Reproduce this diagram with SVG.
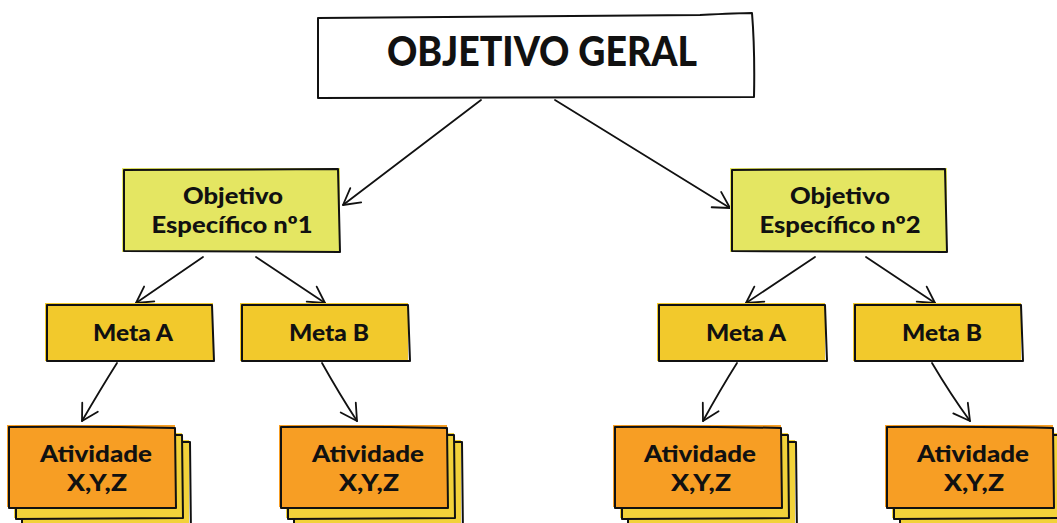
<svg xmlns="http://www.w3.org/2000/svg" width="1057" height="523" viewBox="0 0 1057 523">
<defs>
<style>
.b{stroke:#111;stroke-width:2;stroke-linejoin:round;fill:none}
.t{font-family:Lato,"Noto Sans","Liberation Sans",sans-serif;font-weight:900;fill:#111;text-anchor:middle}
.obj{fill:#e4e662}
.meta{fill:#f2c92c}
.act{fill:#f79e24}
.bk{fill:#f2d23a}
.c{stroke:#111;stroke-width:1.8;fill:none;stroke-linecap:round}
</style>
<marker id="ah" markerUnits="userSpaceOnUse" markerWidth="22" markerHeight="22" viewBox="0 0 22 22" refX="18" refY="11" orient="auto">
<path d="M2,2 L18,11 L2,20" fill="none" stroke="#111" stroke-width="1.8" stroke-linecap="round" stroke-linejoin="round"/>
</marker>
<g id="stack">
<rect class="bk" x="12" y="13" width="168" height="95"/>
<path class="b" d="M14,15 L181,15 L182,110"/>
<path class="b" d="M13,15 L13,110"/>
<rect class="bk" x="5" y="6" width="168" height="85"/>
<path class="b" d="M7,8 L173,8 L174,91 L7,92 Z"/>
<rect class="act" x="-2" y="-2" width="168" height="82"/>
<path class="b" d="M0,0 Q80,-1 166,1 L167,81 L0,81 Z"/>
</g>
</defs>

<g id="connectors">
<path class="c" d="M481,100 L343,205" marker-end="url(#ah)"/>
<path class="c" d="M555,100 L730,208" marker-end="url(#ah)"/>
<path class="c" d="M203,257 L136,303" marker-end="url(#ah)"/>
<path class="c" d="M256,257 L325,303" marker-end="url(#ah)"/>
<path class="c" d="M815,257 L746,303" marker-end="url(#ah)"/>
<path class="c" d="M866,257 L935,303" marker-end="url(#ah)"/>
<path class="c" d="M117,363 Q100,390 82,421" marker-end="url(#ah)"/>
<path class="c" d="M322,363 Q340,395 357,421" marker-end="url(#ah)"/>
<path class="c" d="M737,363 Q720,390 703,421" marker-end="url(#ah)"/>
<path class="c" d="M932,363 Q951,395 970,421" marker-end="url(#ah)"/>
</g>

<g id="objetivo-geral">
<path fill="#fff" class="b" d="M318,18 Q530,16 700,15 Q740,13 752,13 Q755,50 754,97 L318,98 Z"/>
<text class="t" x="542" y="66" font-size="41" textLength="310" lengthAdjust="spacingAndGlyphs">OBJETIVO GERAL</text>
</g>

<g id="obj1">
<rect class="obj" x="122" y="168" width="218" height="84"/>
<path class="b" d="M124,170 L338,169 L340,252 L124,251 Z"/>
<text class="t" x="233" y="204" font-size="23" textLength="100" lengthAdjust="spacingAndGlyphs">Objetivo</text>
<text class="t" x="232" y="233" font-size="23" textLength="161" lengthAdjust="spacingAndGlyphs">Específico nº1</text>
</g>

<g id="obj2">
<rect class="obj" x="730" y="168" width="217" height="84"/>
<path class="b" d="M732,170 L945,169 L947,252 L732,251 Z"/>
<text class="t" x="840" y="204" font-size="23" textLength="100" lengthAdjust="spacingAndGlyphs">Objetivo</text>
<text class="t" x="840" y="233" font-size="23" textLength="161" lengthAdjust="spacingAndGlyphs">Específico nº2</text>
</g>

<g id="meta-a1">
<rect class="meta" x="45" y="303" width="168" height="58"/>
<path class="b" d="M47,305 L212,305 L214,361 L47,361 Z"/>
<text class="t" x="133" y="341" font-size="23" textLength="80" lengthAdjust="spacingAndGlyphs">Meta A</text>
</g>
<g id="meta-b1">
<rect class="meta" x="240" y="303" width="168" height="58"/>
<path class="b" d="M242,305 L408,305 L410,361 L242,361 Z"/>
<text class="t" x="329" y="341" font-size="23" textLength="80" lengthAdjust="spacingAndGlyphs">Meta B</text>
</g>
<g id="meta-a2">
<rect class="meta" x="657" y="303" width="168" height="58"/>
<path class="b" d="M659,305 L825,305 L827,361 L659,361 Z"/>
<text class="t" x="746" y="341" font-size="23" textLength="80" lengthAdjust="spacingAndGlyphs">Meta A</text>
</g>
<g id="meta-b2">
<rect class="meta" x="853" y="303" width="168" height="58"/>
<path class="b" d="M855,305 L1021,305 L1023,361 L855,361 Z"/>
<text class="t" x="942" y="341" font-size="23" textLength="80" lengthAdjust="spacingAndGlyphs">Meta B</text>
</g>

<g id="ativ1">
<use href="#stack" transform="translate(9,427)"/>
<text class="t" x="96" y="462" font-size="23" textLength="112" lengthAdjust="spacingAndGlyphs">Atividade</text>
<text class="t" x="97" y="491" font-size="23" textLength="60" lengthAdjust="spacingAndGlyphs">X,Y,Z</text>
</g>
<g id="ativ2">
<use href="#stack" transform="translate(281,427)"/>
<text class="t" x="368" y="462" font-size="23" textLength="112" lengthAdjust="spacingAndGlyphs">Atividade</text>
<text class="t" x="369" y="491" font-size="23" textLength="60" lengthAdjust="spacingAndGlyphs">X,Y,Z</text>
</g>
<g id="ativ3">
<use href="#stack" transform="translate(615,427)"/>
<text class="t" x="700" y="462" font-size="23" textLength="112" lengthAdjust="spacingAndGlyphs">Atividade</text>
<text class="t" x="701" y="491" font-size="23" textLength="60" lengthAdjust="spacingAndGlyphs">X,Y,Z</text>
</g>
<g id="ativ4">
<use href="#stack" transform="translate(887,427)"/>
<text class="t" x="973" y="462" font-size="23" textLength="112" lengthAdjust="spacingAndGlyphs">Atividade</text>
<text class="t" x="974" y="491" font-size="23" textLength="60" lengthAdjust="spacingAndGlyphs">X,Y,Z</text>
</g>
</svg>
